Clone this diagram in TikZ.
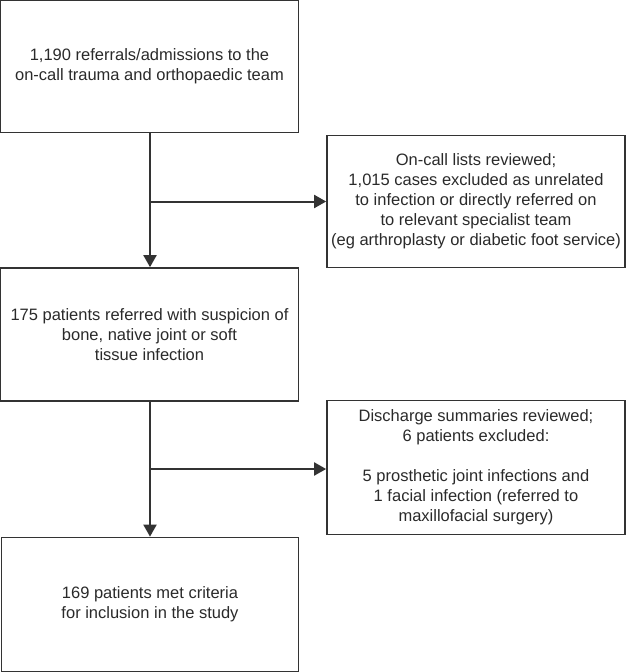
\documentclass[tikz,border=0pt]{standalone}
\usepackage{fontspec}
\setmainfont{Liberation Sans}
\usetikzlibrary{arrows.meta}
\definecolor{txt}{HTML}{2A2A2A}
\definecolor{ln}{HTML}{333333}
\begin{document}
\begin{tikzpicture}[x=1pt,y=-1pt,
  box/.style={draw=ln,line width=1.7pt,text=txt,align=center,inner sep=0pt,
    font=\fontsize{16.5}{20}\selectfont},
  conn/.style={draw=ln,line width=2pt,-{Triangle[length=12pt,width=13pt]}}]
\useasboundingbox (0,0) rectangle (626,672);
\node[box,minimum width=298pt,minimum height=132pt] (b1) at (149.5,66.5)
  {1,190 referrals/admissions to the\\on-call trauma and orthopaedic team};
\node[box,minimum width=298pt,minimum height=132pt] (b2) at (476,201.5)
  {On-call lists reviewed;\\1,015 cases excluded as unrelated\\to infection or directly referred on\\to relevant specialist team\\(eg arthroplasty or diabetic foot service)};
\node[box,minimum width=298pt,minimum height=133pt] (b3) at (149.5,334.5)
  {175 patients referred with suspicion of\\bone, native joint or soft\\tissue infection};
\node[box,minimum width=298pt,minimum height=134pt] (b4) at (476,467.5)
  {Discharge summaries reviewed;\\6 patients excluded:\\[20pt]5 prosthetic joint infections and\\1 facial infection (referred to\\maxillofacial surgery)};
\node[box,minimum width=297pt,minimum height=134pt] (b5) at (150,604.5)
  {169 patients met criteria\\for inclusion in the study};
\coordinate (j1) at (150,201.5);
\coordinate (j2) at (150,469);
\draw[conn] (b1.south -| j1) -- (b3.north -| j1);
\draw[conn] (j1) -- (j1 -| b2.west);
\draw[conn] (b3.south -| j2) -- (b5.north -| j2);
\draw[conn] (j2) -- (j2 -| b4.west);
\end{tikzpicture}
\end{document}
